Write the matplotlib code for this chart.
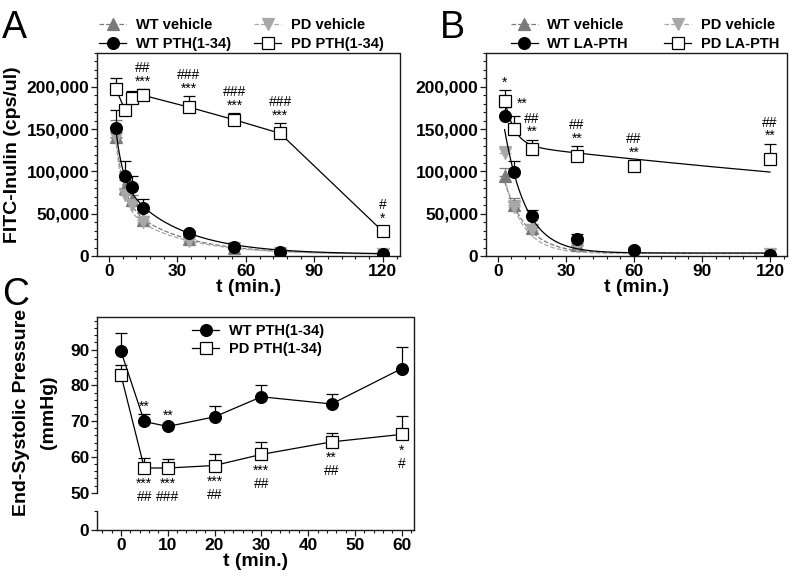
import numpy as np
import matplotlib
matplotlib.use("Agg")
import matplotlib.pyplot as plt
from matplotlib.ticker import MultipleLocator, FuncFormatter

plt.rcParams['font.family'] = ['Liberation Sans', 'DejaVu Sans']
plt.rcParams['font.weight'] = 'bold'

# ---------------- Panel A data ----------------
a_t = [3, 7, 10, 15, 35, 55, 75, 120]
a_wt_veh = [141000, 80000, 66000, 42700, 20000, 9000, 4000, 2000]
a_wt_veh_sem = [20000, 10000, 6000, 4000, 2500, 1500, 1000, 500]
a_pd_veh = [140000, 72000, 60000, 40000, 18000, 9000, 4000, 2000]
a_pd_veh_sem = [10000, 8000, 5000, 3000, 2000, 1500, 1000, 500]
a_wt_pth = [151000, 94000, 81000, 56500, 27000, 11000, 5000, 2500]
a_wt_pth_sem = [22000, 18000, 13000, 11000, 3000, 2000, 1000, 500]
a_pd_pth = [198000, 173000, 186500, 190000, 176000, 161000, 145000, 29000]
a_pd_pth_sem = [12000, 6000, 8000, 7000, 13000, 8000, 12000, 6000]
a_stats_t = [15, 35, 55, 75, 120]
a_stats = ['##\n***', '###\n***', '###\n***', '###\n***', '#\n*']
# two-phase decay fit parameters: plateau, span1, k1, span2, k2
a_fit_wt_veh = [2000, 176600, 0.29, 73000, 0.04]
a_fit_pd_veh = [2000, 217500, 0.334, 64900, 0.04]
a_fit_wt_pth = [2000, 161700, 0.336, 101400, 0.04]

# ---------------- Panel B data ----------------
b_t = [3, 7, 15, 35, 60, 120]
b_wt_veh = [94000, 60000, 33000, 13000, 4000, 2000]
b_wt_veh_sem = [10000, 8000, 5000, 2000, 1000, 500]
b_pd_veh = [122000, 58000, 31000, 12000, 3000, 2000]
b_pd_veh_sem = [8000, 8000, 4000, 2000, 1000, 500]
b_wt_la = [166000, 99300, 47800, 20500, 7000, 1000]
b_wt_la_sem = [10000, 13000, 7000, 6000, 1500, 500]
b_pd_la = [183000, 150000, 126500, 117700, 106000, 114700]
b_pd_la_sem = [13000, 15000, 11000, 12000, 7000, 18000]
b_stats_t = [3, 7, 15, 35, 60, 120]
b_stats = ['*', '**', '##\n**', '##\n**', '##\n**', '##\n**']
b_fit_wt_veh = [3000, 114800, 0.10, 0, 0.0]
b_fit_pd_veh = [3000, 127400, 0.12, 0, 0.0]
b_fit_wt_la = [3500, 200000, 0.105, 0, 0.0]
b_fit_pd_la = [0, 109000, 0.233, 132400, 0.0024]

# ---------------- Panel C data ----------------
c_t = [0, 5, 10, 20, 30, 45, 60]
c_wt = [89.6, 69.9, 68.5, 71.2, 76.8, 74.8, 84.7]
c_wt_sem = [5.0, 2.0, 0.8, 3.0, 3.2, 2.9, 5.9]
c_pd = [83.0, 56.9, 56.9, 57.6, 60.7, 64.2, 66.3]
c_pd_sem = [2.8, 2.8, 2.6, 3.3, 3.5, 2.6, 5.1]
c_wt_stats_t = [5, 10]
c_wt_stats = ['**', '**']
c_pd_stats_t = [5, 10, 20, 30, 45, 60]
c_pd_stats = ['***\n##', '***\n###', '***\n##', '***\n##', '**\n##', '*\n#']

GRAY = '#7a7a7a'
LGRAY = '#a8a8a8'
SPINE = '#1a1a1a'
W, H = 789, 578


def fig_rect(x0, y0, x1, y1):
    return [x0 / W, 1 - y1 / H, (x1 - x0) / W, (y1 - y0) / H]


def two_phase(t, p):
    t = np.asarray(t, dtype=float)
    return p[0] + p[1] * np.exp(-p[2] * t) + p[3] * np.exp(-p[4] * t)


def frame_box(x0, y0, x1, y1):
    # plain top and right frame line of a panel, drawn in figure pixels
    fig.add_artist(plt.Line2D([x0 / W, x1 / W, x1 / W],
                              [1 - y0 / H, 1 - y0 / H, 1 - y1 / H],
                              transform=fig.transFigure, color=SPINE, lw=1.0,
                              solid_capstyle='projecting', zorder=10))


def style(ax, bottom=True):
    for name, s in ax.spines.items():
        s.set_linewidth(1.0)
        s.set_color(SPINE)
    ax.spines['top'].set_visible(False)
    ax.spines['right'].set_visible(False)
    ax.spines['bottom'].set_visible(bottom)
    ax.tick_params(which='major', direction='out', length=4, width=0.9,
                   labelsize=12.5, pad=1.5, color=SPINE)
    ax.tick_params(which='minor', direction='out', length=2.2, width=0.8,
                   color=SPINE)
    ax.tick_params(top=False, right=False, which='both')
    ax.patch.set_alpha(0)


fig = plt.figure(figsize=(W / 100, H / 100), dpi=100)

ms_c, ms_s, ms_t = 8.5, 9, 8
cap = 4.5
STAT_FS = 10


def series(ax, t, y, sem, marker, mfc, mec, color, ms, ls_line=None, fit=None,
           label=None, z=3):
    ax.errorbar(t, y, yerr=[np.zeros(len(sem)), sem], fmt='none', ecolor=color,
                elinewidth=0.9, capsize=cap, capthick=0.9, zorder=z)
    ax.plot(t, y, linestyle='none', marker=marker, ms=ms, mfc=mfc, mec=mec,
            mew=0.9, zorder=z + 0.5)
    if fit is not None:
        tt = np.linspace(min(t), max(t), 400)
        ax.plot(tt, two_phase(tt, fit), color=color, lw=0.9, ls=ls_line,
                zorder=z - 0.5)
    elif ls_line is not None:
        ax.plot(t, y, color=color, lw=0.9, ls=ls_line, zorder=z - 0.5)
    h, = ax.plot([], [], color=color, lw=0.9, ls=ls_line if ls_line else '-',
                 marker=marker, ms=ms, mfc=mfc, mec=mec, mew=0.9, label=label)
    return h


def annotate_stats(ax, ts, texts, t, y, sem, below=False, dx=None, dy=None):
    for i, (ti, txt) in enumerate(zip(ts, texts)):
        idx = list(t).index(ti)
        off_x = 0 if dx is None else dx[i]
        off_y = 0 if dy is None else dy[i]
        if below:
            ax.annotate(txt, xy=(ti, y[idx]), xytext=(off_x, -6.5 + off_y),
                        textcoords='offset points', ha='center', va='top',
                        fontsize=STAT_FS, fontweight='normal', linespacing=0.95,
                        annotation_clip=False)
        else:
            ax.annotate(txt, xy=(ti, y[idx] + sem[idx]),
                        xytext=(off_x, 0.5 + off_y),
                        textcoords='offset points', ha='center', va='bottom',
                        fontsize=STAT_FS, fontweight='normal', linespacing=0.95,
                        annotation_clip=False)


def fitc_axes(px):
    ax = fig.add_axes(fig_rect(*px))
    style(ax)
    frame_box(*px)
    ax.set_xlim(-5.2, 127.5)
    ax.set_ylim(0, 240000)
    ax.xaxis.set_major_locator(MultipleLocator(30))
    ax.xaxis.set_minor_locator(MultipleLocator(6))
    ax.yaxis.set_major_locator(MultipleLocator(50000))
    ax.yaxis.set_minor_locator(MultipleLocator(10000))
    ax.yaxis.set_major_formatter(FuncFormatter(lambda v, p: f'{v:,.0f}'))
    ax.set_xlabel('t (min.)', fontsize=14, fontweight='bold', labelpad=0)
    return ax


LEG = dict(frameon=False, borderpad=0, handlelength=1.85, handletextpad=0.65,
           labelspacing=0.3, prop={'size': 10.5, 'weight': 'bold'})

# ---------------- Panel A ----------------
axA = fitc_axes((97, 53, 400, 256))
hA1 = series(axA, a_t, a_wt_veh, a_wt_veh_sem, '^', GRAY, GRAY, GRAY, ms_t,
             '--', a_fit_wt_veh, 'WT vehicle', z=2)
hA2 = series(axA, a_t, a_pd_veh, a_pd_veh_sem, 'v', LGRAY, LGRAY, LGRAY, ms_t,
             '--', a_fit_pd_veh, 'PD vehicle', z=2)
hA3 = series(axA, a_t, a_wt_pth, a_wt_pth_sem, 'o', 'black', 'black', 'black',
             ms_c, '-', a_fit_wt_pth, 'WT PTH(1-34)', z=4)
hA4 = series(axA, a_t, a_pd_pth, a_pd_pth_sem, 's', 'white', 'black', 'black',
             ms_s, '-', None, 'PD PTH(1-34)', z=5)
annotate_stats(axA, a_stats_t, a_stats, a_t, a_pd_pth, a_pd_pth_sem)
axA.set_ylabel('FITC-Inulin (cps/ul)', fontsize=14, fontweight='bold',
               labelpad=4)
axA.legend(handles=[hA1, hA3, hA2, hA4], ncol=2, loc='lower left',
           bbox_to_anchor=(0.0, 1.0), borderaxespad=0.15, columnspacing=1.6,
           **LEG)

# ---------------- Panel B ----------------
axB = fitc_axes((486, 53, 787, 256))
hB1 = series(axB, b_t, b_wt_veh, b_wt_veh_sem, '^', GRAY, GRAY, GRAY, ms_t,
             '--', b_fit_wt_veh, 'WT vehicle', z=2)
hB2 = series(axB, b_t, b_pd_veh, b_pd_veh_sem, 'v', LGRAY, LGRAY, LGRAY, ms_t,
             '--', b_fit_pd_veh, 'PD vehicle', z=2)
hB3 = series(axB, b_t, b_wt_la, b_wt_la_sem, 'o', 'black', 'black', 'black',
             ms_c, '-', b_fit_wt_la, 'WT LA-PTH', z=4)
hB4 = series(axB, b_t, b_pd_la, b_pd_la_sem, 's', 'white', 'black', 'black',
             ms_s, '-', b_fit_pd_la, 'PD LA-PTH', z=5)
annotate_stats(axB, b_stats_t, b_stats, b_t, b_pd_la, b_pd_la_sem,
               dx=[0, 6.5, 0, 0, 0, 0], dy=[0, 3.5, 0, 0, 0, 0])
axB.legend(handles=[hB1, hB3, hB2, hB4], ncol=2, loc='lower left',
           bbox_to_anchor=(0.075, 1.0), borderaxespad=0.15, columnspacing=2.5,
           **LEG)

# ---------------- Panel C (broken y axis) ----------------
frame_box(97, 317, 414, 530)

axC = fig.add_axes(fig_rect(97, 317, 414, 492.7))
style(axC, bottom=False)
axC.set_xlim(-5.1, 62.6)
axC.set_ylim(50, 99.1)
axC.set_xticks([])
axC.yaxis.set_major_locator(MultipleLocator(10))
axC.yaxis.set_minor_locator(MultipleLocator(2))

axC2 = fig.add_axes(fig_rect(97, 510.7, 414, 530))
style(axC2, bottom=True)
axC2.set_xlim(-5.1, 62.6)
axC2.set_ylim(0, 5.4)
axC2.set_yticks([0])
axC2.set_yticks([5.3], minor=True)
axC2.xaxis.set_major_locator(MultipleLocator(10))
axC2.xaxis.set_minor_locator(MultipleLocator(2))
axC2.set_xlabel('t (min.)', fontsize=14, fontweight='bold', labelpad=0)

hC1 = series(axC, c_t, c_wt, c_wt_sem, 'o', 'black', 'black', 'black', ms_c,
             '-', None, 'WT PTH(1-34)', z=4)
hC2 = series(axC, c_t, c_pd, c_pd_sem, 's', 'white', 'black', 'black', ms_s,
             '-', None, 'PD PTH(1-34)', z=5)
annotate_stats(axC, c_wt_stats_t, c_wt_stats, c_t, c_wt, c_wt_sem)
annotate_stats(axC, c_pd_stats_t, c_pd_stats, c_t, c_pd, c_pd_sem, below=True)
axC.legend(handles=[hC1, hC2], loc='upper left', bbox_to_anchor=(0.3, 0.96),
           borderaxespad=0, **LEG)
fig.text(22 / W, 1 - 412 / H, 'End-Systolic Pressure', rotation=90,
         ha='center', va='center', fontsize=14, fontweight='bold')
fig.text(48 / W, 1 - 412 / H, '(mmHg)', rotation=90,
         ha='center', va='center', fontsize=14, fontweight='bold')

# panel letters
for letter, x, y in [('A', 2, 38), ('B', 440, 38), ('C', 2, 305)]:
    fig.text(x / W, 1 - y / H, letter, fontsize=27, fontweight='normal',
             ha='left', va='baseline')

fig.savefig('out.png', dpi=100)
